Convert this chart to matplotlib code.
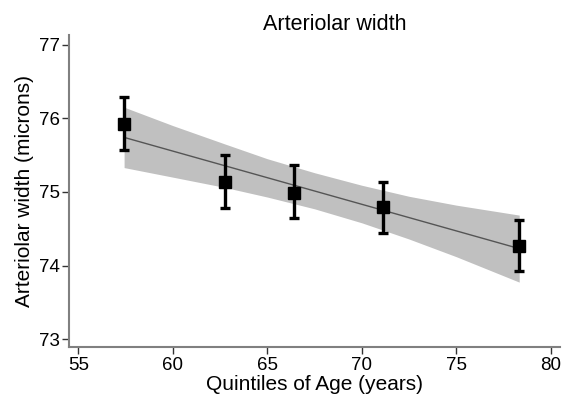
import matplotlib.pyplot as plt

plt.rcParams['font.family'] = ['Liberation Sans', 'DejaVu Sans']

# quintile means with 95% CI
ages = [57.42, 62.76, 66.43, 71.10, 78.33]
width = [75.92, 75.14, 74.99, 74.79, 74.27]
ci_low = [75.57, 74.78, 74.64, 74.44, 73.93]
ci_high = [76.29, 75.50, 75.36, 75.14, 74.62]

# linear fit with confidence band
band_ages = [57.42, 60.0, 62.76, 65.0, 67.5, 70.0, 72.5, 75.0, 78.33]
band_low = [75.33, 75.20, 75.06, 74.93, 74.77, 74.58, 74.36, 74.12, 73.775]
band_high = [76.15, 75.90, 75.65, 75.45, 75.26, 75.09, 74.94, 74.82, 74.685]
fit_ages = [57.42, 78.33]
fit_vals = [75.74, 74.23]

fig = plt.figure(figsize=(5.63, 3.96), dpi=100)
ax = fig.add_axes([0.1231, 0.1230, 0.8716, 0.7886])

ax.fill_between(band_ages, band_low, band_high, color='#c0c0c0', lw=0, zorder=1)
ax.plot(fit_ages, fit_vals, color='#555555', lw=1.0, zorder=2)

yerr = [[w - lo for w, lo in zip(width, ci_low)],
        [hi - w for w, hi in zip(width, ci_high)]]
ax.errorbar(ages, width, yerr=yerr, fmt='s', color='black', ms=8.5,
            elinewidth=2.4, capsize=3.8, capthick=2.4, zorder=3)

ax.set_xlim(54.52, 80.49)
ax.set_ylim(72.89, 77.13)
ax.set_xticks([55, 60, 65, 70, 75, 80])
ax.set_yticks([73, 74, 75, 76, 77])

for s in ['top', 'right']:
    ax.spines[s].set_visible(False)
for s in ['left', 'bottom']:
    ax.spines[s].set_color('#808080')
    ax.spines[s].set_linewidth(1.5)

ax.tick_params(axis='both', direction='out', length=5, width=1, color='#333333',
               labelsize=13.5)
ax.tick_params(axis='x', pad=2)
ax.tick_params(axis='y', pad=1.5)

ax.set_title('Arteriolar width', fontsize=15.5, pad=3, x=0.541)
ax.set_xlabel('Quintiles of Age (years)', fontsize=15, labelpad=0.5)
ax.set_ylabel('Arteriolar width (microns)', fontsize=15, labelpad=4)

fig.savefig('out.png', dpi=100)
